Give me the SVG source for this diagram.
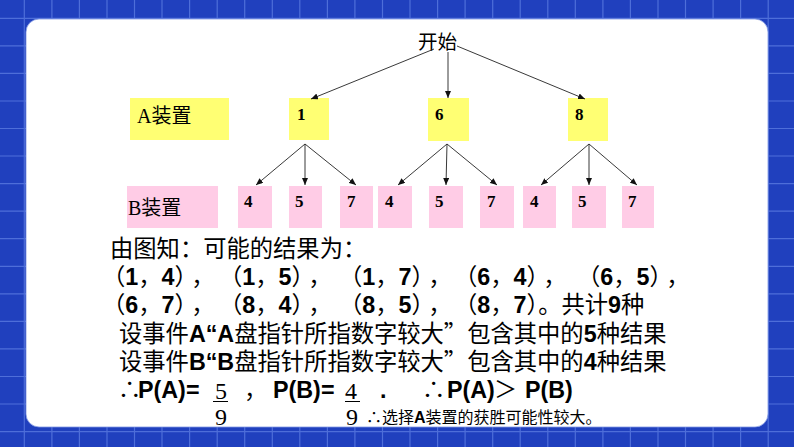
<svg xmlns="http://www.w3.org/2000/svg" width="794" height="447" viewBox="0 0 794 447">
<style>
.grid{stroke:#4E6ED9;stroke-width:1.2;fill:none}
.ya{fill:#FFFF73}
.pk{fill:#FFCCE6}
.lbl{font-family:"Liberation Serif","Noto Sans CJK SC",serif;font-size:20px;fill:#000}
.num{font-family:"Liberation Serif",serif;font-weight:bold;font-size:17px;fill:#000}
.cn{font-family:"Noto Sans CJK SC",sans-serif;font-size:23.3px;fill:#000}
.b{font-family:"Liberation Sans",Arial,sans-serif;font-weight:bold}
.fr{font-family:"Liberation Serif",serif;font-size:24px;fill:#000}
.sm{font-family:"Noto Sans CJK SC",sans-serif;font-size:16px;fill:#000}
.conn line{stroke:#222;stroke-width:0.9;marker-end:url(#ah)}
</style>
<defs>
<marker id="ah" markerUnits="userSpaceOnUse" markerWidth="7" markerHeight="6" refX="7" refY="3" orient="auto">
<path d="M0,0 L7,3 L0,6 z" fill="#111"/>
</marker>
</defs>
<rect x="0" y="0" width="794" height="447" fill="#2040BE"/>
<path class="grid" d="M24.3,0V447M51.9,0V447M79.4,0V447M107,0V447M134.5,0V447M162,0V447M189.6,0V447M217.2,0V447M244.7,0V447M272.3,0V447M299.8,0V447M327.4,0V447M354.9,0V447M382.5,0V447M410,0V447M437.6,0V447M465.1,0V447M492.7,0V447M520.2,0V447M547.8,0V447M575.3,0V447M602.9,0V447M630.4,0V447M658,0V447M685.5,0V447M713.1,0V447M740.6,0V447M768.2,0V447M0,18.3H794M0,45.9H794M0,73.4H794M0,101H794M0,128.5H794M0,156H794M0,183.6H794M0,211.2H794M0,238.7H794M0,266.3H794M0,293.8H794M0,321.4H794M0,348.9H794M0,376.5H794M0,404H794M0,431.6H794"/>
<rect x="26" y="19" width="742" height="408" rx="13" fill="#fff" stroke="#7E95E2" stroke-width="0.8"/>

<g id="start"><text class="lbl" x="418" y="49" style="font-size:19.5px">开始</text></g>

<g id="labelA"><rect class="ya" x="130" y="98" width="99" height="42"/><text class="lbl" x="137" y="123">A装置</text></g>
<g id="a1"><rect class="ya" x="289" y="98" width="40" height="42"/><text class="num" x="297" y="120">1</text></g>
<g id="a6"><rect class="ya" x="428" y="98" width="41" height="43"/><text class="num" x="435" y="120">6</text></g>
<g id="a8"><rect class="ya" x="568" y="98" width="40" height="43"/><text class="num" x="575" y="120">8</text></g>

<g id="labelB"><rect class="pk" x="127" y="186" width="91" height="42"/><text class="lbl" x="128" y="215">B装置</text></g>
<g id="b1-4"><rect class="pk" x="238" y="186" width="34" height="42"/><text class="num" x="244" y="207">4</text></g>
<g id="b1-5"><rect class="pk" x="289" y="186" width="33" height="42"/><text class="num" x="295" y="207">5</text></g>
<g id="b1-7"><rect class="pk" x="340" y="186" width="33" height="42"/><text class="num" x="347" y="207">7</text></g>
<g id="b6-4"><rect class="pk" x="378" y="186" width="34" height="42"/><text class="num" x="385" y="207">4</text></g>
<g id="b6-5"><rect class="pk" x="429" y="186" width="34" height="42"/><text class="num" x="435" y="207">5</text></g>
<g id="b6-7"><rect class="pk" x="480" y="186" width="34" height="42"/><text class="num" x="487" y="207">7</text></g>
<g id="b8-4"><rect class="pk" x="523" y="186" width="33" height="42"/><text class="num" x="530" y="207">4</text></g>
<g id="b8-5"><rect class="pk" x="572" y="186" width="34" height="42"/><text class="num" x="578" y="207">5</text></g>
<g id="b8-7"><rect class="pk" x="622" y="186" width="32" height="42"/><text class="num" x="628" y="207">7</text></g>

<g id="connectors" class="conn">
<line x1="434" y1="49" x2="311" y2="99"/>
<line x1="448" y1="52" x2="448" y2="98"/>
<line x1="457" y1="46" x2="585" y2="99"/>
<line x1="305" y1="144" x2="256" y2="185"/>
<line x1="305" y1="144" x2="305" y2="185"/>
<line x1="305" y1="144" x2="356" y2="185"/>
<line x1="447" y1="144" x2="398" y2="185"/>
<line x1="447" y1="144" x2="446" y2="185"/>
<line x1="447" y1="144" x2="497" y2="185"/>
<line x1="589" y1="144" x2="541" y2="185"/>
<line x1="589" y1="144" x2="589" y2="185"/>
<line x1="589" y1="144" x2="637" y2="185"/>
</g>

<g id="body">
<text class="cn" x="110" y="257">由图知：可能的结果为：</text>
<text class="cn" y="285"><tspan x="102">（</tspan><tspan class="b">1</tspan>，<tspan class="b">4</tspan>）<tspan dx="5">，</tspan><tspan x="219">（</tspan><tspan class="b">1</tspan>，<tspan class="b">5</tspan>）<tspan dx="5">，</tspan><tspan x="339">（</tspan><tspan class="b">1</tspan>，<tspan class="b">7</tspan>）<tspan dx="5">，</tspan><tspan x="454">（</tspan><tspan class="b">6</tspan>，<tspan class="b">4</tspan>）<tspan dx="5">，</tspan><tspan x="577">（</tspan><tspan class="b">6</tspan>，<tspan class="b">5</tspan>）<tspan dx="5">，</tspan></text>
<text class="cn" y="313"><tspan x="102">（</tspan><tspan class="b">6</tspan>，<tspan class="b">7</tspan>）<tspan dx="5">，</tspan><tspan x="219">（</tspan><tspan class="b">8</tspan>，<tspan class="b">4</tspan>）<tspan dx="5">，</tspan><tspan x="339">（</tspan><tspan class="b">8</tspan>，<tspan class="b">5</tspan>）<tspan dx="5">，</tspan><tspan x="454">（</tspan><tspan class="b">8</tspan>，<tspan class="b">7</tspan>）。共计<tspan class="b">9</tspan>种</text>
<text class="cn" x="119" y="342">设事件<tspan class="b">A“A</tspan>盘指针所指数字较大”包含其中的<tspan class="b">5</tspan>种结果</text>
<text class="cn" x="119" y="370">设事件<tspan class="b">B“B</tspan>盘指针所指数字较大”包含其中的<tspan class="b">4</tspan>种结果</text>
<text class="cn" y="398"><tspan x="118">∴</tspan><tspan class="b" x="138">P(A)=</tspan><tspan x="244">，</tspan><tspan class="b" x="273">P(B)=</tspan><tspan class="b" x="380">.</tspan><tspan x="422">∴</tspan><tspan class="b" x="447">P(A)</tspan><tspan x="494">＞</tspan><tspan class="b" x="525">P(B)</tspan></text>
<text class="fr" x="215" y="399">5</text>
<line x1="213" y1="401.5" x2="228" y2="401.5" stroke="#000" stroke-width="1"/>
<text class="fr" x="215" y="425">9</text>
<text class="fr" x="345" y="399">4</text>
<line x1="345" y1="401.5" x2="360" y2="401.5" stroke="#000" stroke-width="1"/>
<text class="fr" x="346" y="425">9</text>
<text class="sm" x="366" y="423">∴选择<tspan class="b">A</tspan>装置的获胜可能性较大。</text>
</g>
</svg>
